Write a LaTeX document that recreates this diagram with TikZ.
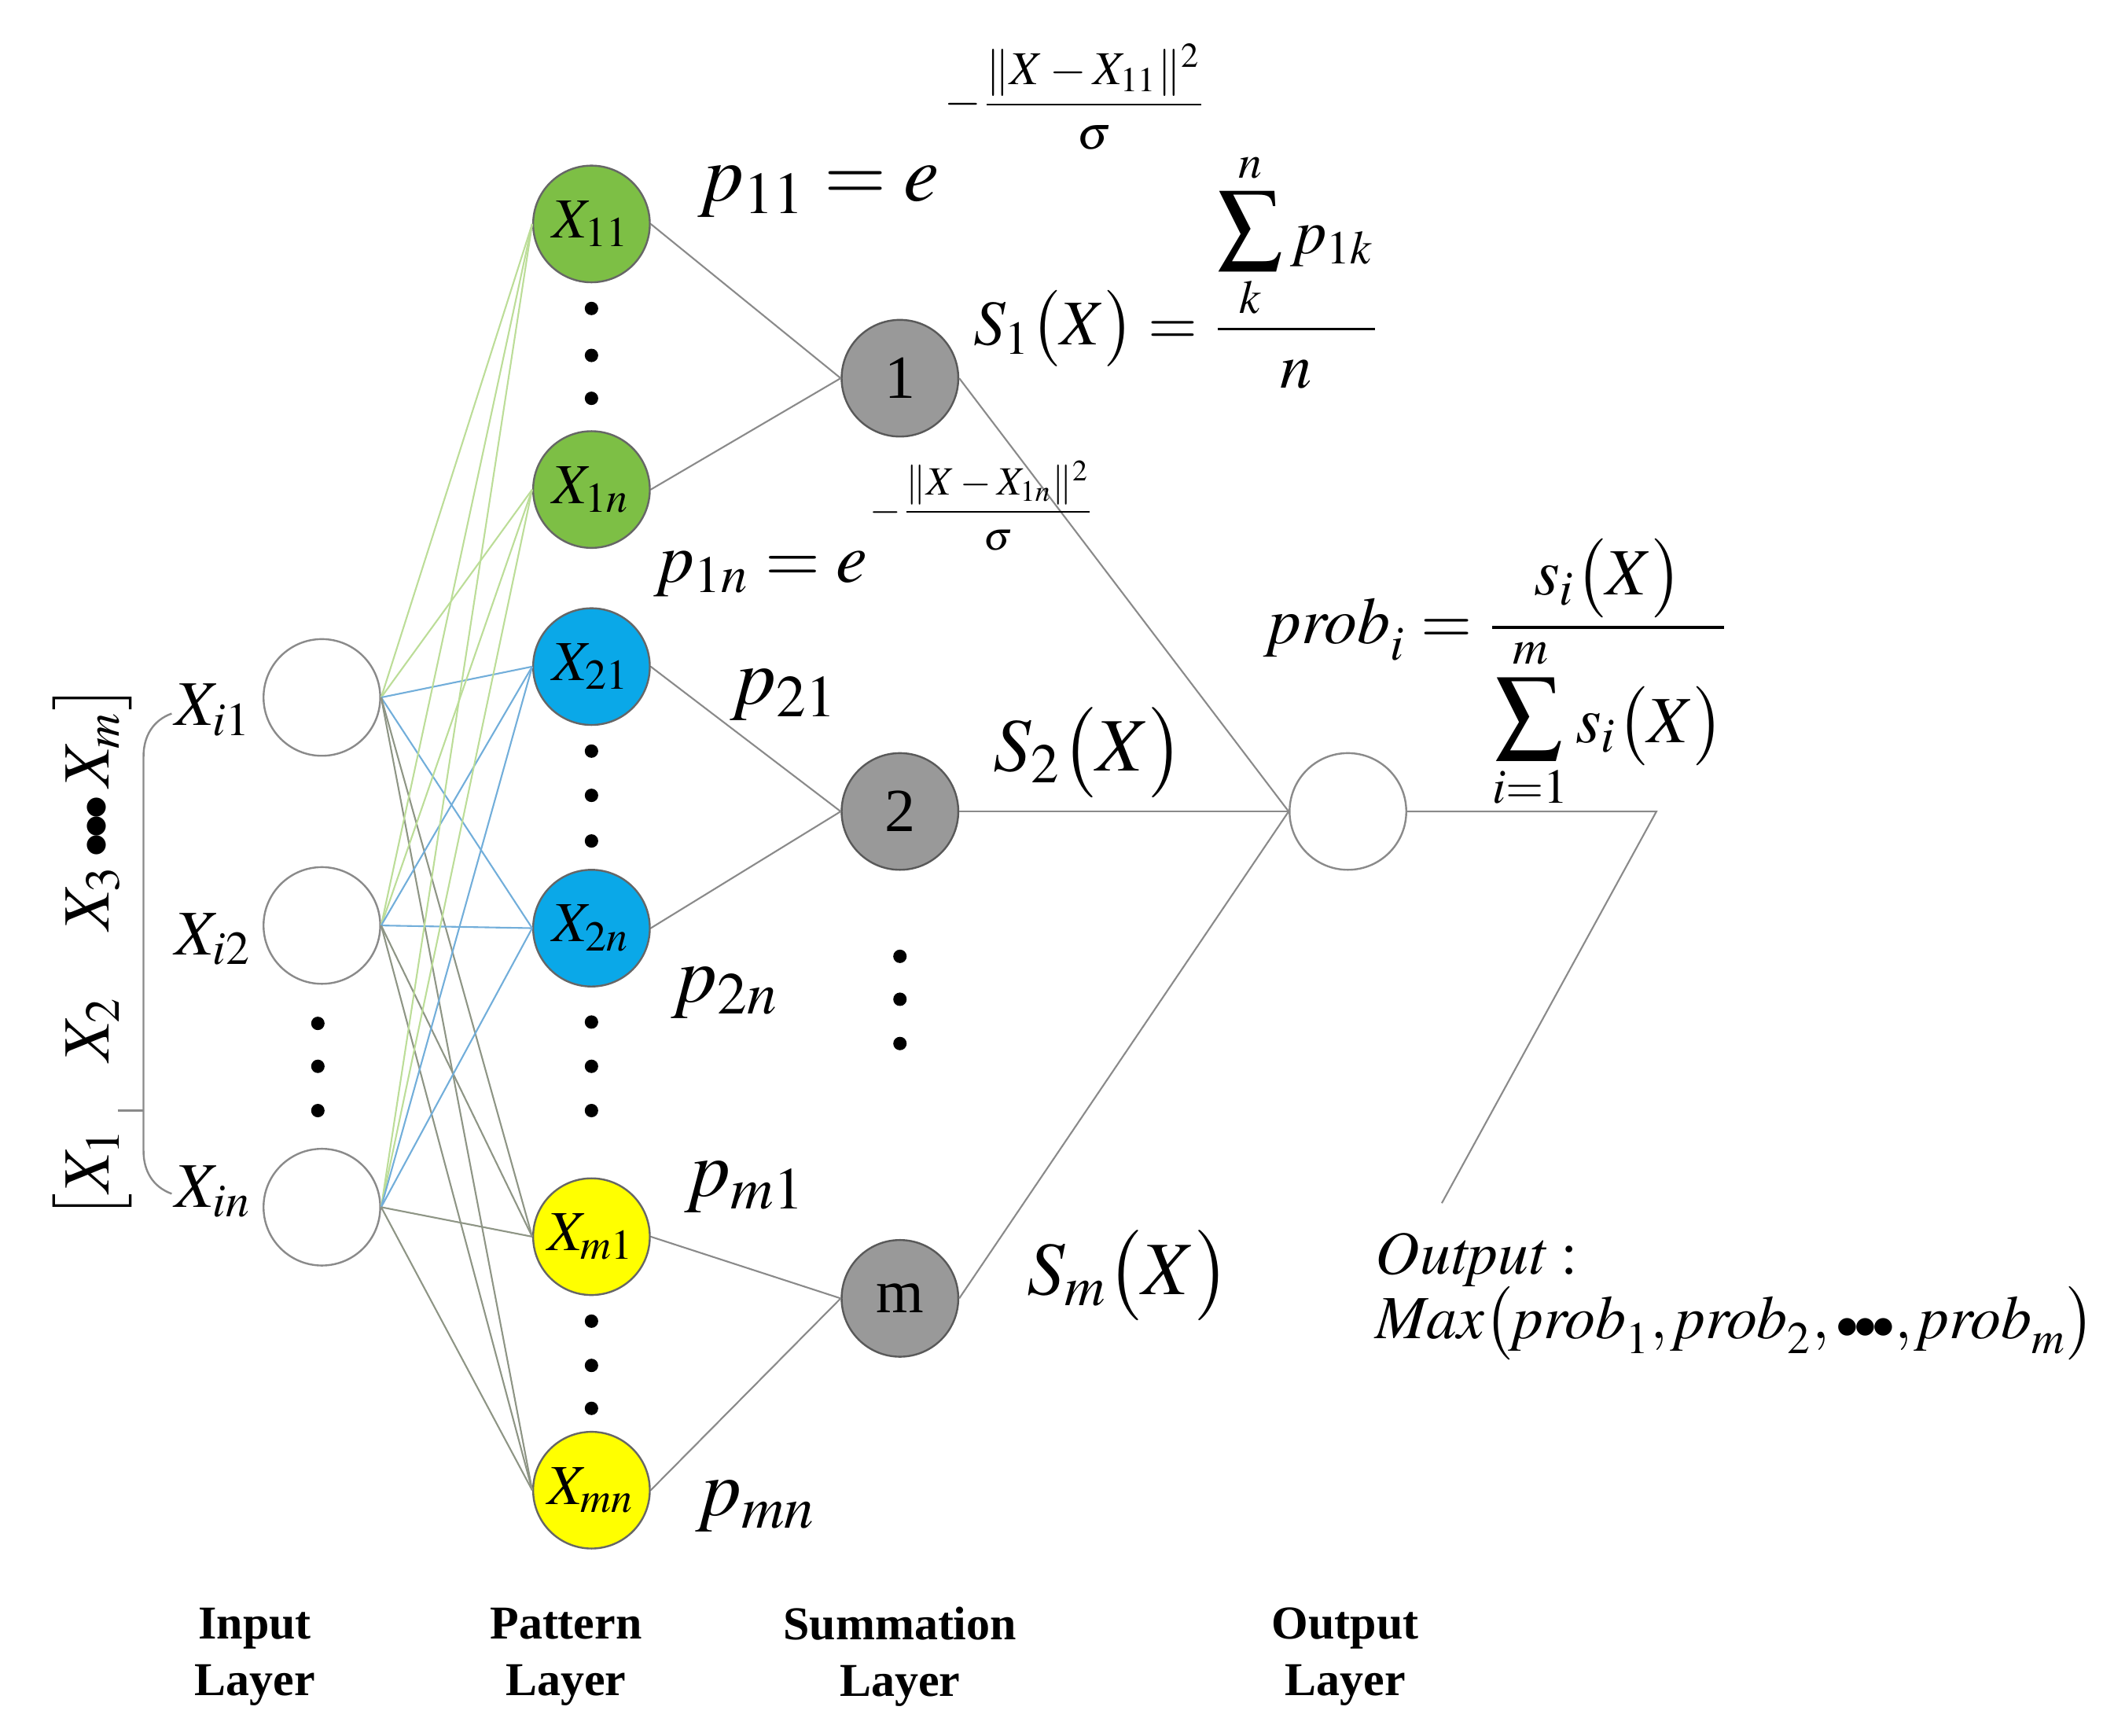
\documentclass[tikz,border=0pt]{standalone}
\usepackage{mathptmx}
\usepackage[no-math]{fontspec}
\setmainfont{Liberation Serif}
\usepackage{tikz}
\definecolor{patgreen}{HTML}{7DBF45}
\definecolor{patblue}{HTML}{0AA8E8}
\definecolor{patyellow}{HTML}{FFFF00}
\definecolor{sumgray}{HTML}{999999}
\definecolor{linkgreen}{HTML}{BCDD98}
\definecolor{linkblue}{HTML}{72AEDA}
\definecolor{linkgray}{HTML}{8E9585}
\definecolor{edgegray}{HTML}{8A8A8A}
\newcommand{\threedots}{{\scriptstyle\bullet}\hspace{-0.08em}{\scriptstyle\bullet}\hspace{-0.08em}{\scriptstyle\bullet}}
\newcommand{\bigsum}{\mathop{\scalebox{1.45}{$\sum$}}\limits}

\begin{document}
\begin{tikzpicture}[
  inp/.style={circle, draw=edgegray, fill=white, minimum size=0.87cm, inner sep=0pt},
  pat/.style={circle, draw=gray!80!black, minimum size=0.87cm, inner sep=0pt,
              font=\fontsize{12}{14}\selectfont},
  sumnode/.style={circle, draw=gray!70!black, fill=sumgray, minimum size=0.87cm,
                  inner sep=0pt, font=\fontsize{13}{15}\selectfont},
  link/.style={line width=0.35pt},
  lbl/.style={anchor=base west, inner sep=0pt},
  layer/.style={align=center, font=\fontsize{10}{12}\selectfont\bfseries},
]
\useasboundingbox (0,0) rectangle (15.68,12.94);

% Input layer
\node[inp] (i1) at (2.40,7.74) {};
\node[inp] (i2) at (2.40,6.04) {};
\node[inp] (i3) at (2.40,3.94) {};
\node[lbl, font=\fontsize{13.5}{15}\selectfont] (li1) at (1.30,7.53) {$X_{i1}$};
\node[lbl, font=\fontsize{13.5}{15}\selectfont] (li2) at (1.30,5.82) {$X_{i2}$};
\node[lbl, font=\fontsize{13.5}{15}\selectfont] (li3) at (1.30,3.94) {$X_{in}$};
\node[rotate=90, inner sep=0pt, font=\fontsize{14}{16}\selectfont] (vec) at (0.69,5.84)
  {$\bigl[X_1\quad X_2\quad X_3\,\threedots\,X_m\bigr]$};
\draw[edgegray, line width=0.4pt] (1.28,7.62) to[out=200, in=90] (1.07,7.30)
  -- (1.07,4.36) to[out=-90, in=160] (1.28,4.04);
\draw[edgegray, line width=0.4pt] (0.88,4.66) -- (1.07,4.66);

% Pattern layer
\node[pat, fill=patgreen]  (x11) at (4.41,11.27) {$X_{11}$};
\node[pat, fill=patgreen]  (x1n) at (4.41,9.29)  {$X_{1n}$};
\node[pat, fill=patblue]   (x21) at (4.41,7.97)  {$X_{21}$};
\node[pat, fill=patblue]   (x2n) at (4.41,6.02)  {$X_{2n}$};
\node[pat, fill=patyellow] (xm1) at (4.41,3.72)  {$X_{m1}$};
\node[pat, fill=patyellow] (xmn) at (4.41,1.83)  {$X_{mn}$};

% Summation layer
\node[sumnode] (s1) at (6.71,10.12) {1};
\node[sumnode] (s2) at (6.71,6.89)  {2};
\node[sumnode] (sm) at (6.71,3.26)  {m};

% Output layer
\node[inp] (out) at (10.05,6.89) {};
\coordinate (bend) at (12.35,6.89);
\coordinate (tail) at (10.75,3.97);

% vertical dots
\foreach \yy in {5.31,4.99,4.66}
  \fill (2.37,\yy) circle (0.05);
\foreach \yy in {10.64,10.29,9.97, 7.34,7.01,6.67, 5.32,4.99,4.66, 3.09,2.76,2.44}
  \fill (4.41,\yy) circle (0.05);
\foreach \yy in {5.81,5.49,5.16}
  \fill (6.71,\yy) circle (0.05);

% Input to pattern
\foreach \src in {i1,i2,i3} {
  \foreach \dst in {x11,x1n}
    \draw[link, linkgreen] (\src.east) -- (\dst.west);
  \foreach \dst in {x21,x2n}
    \draw[link, linkblue] (\src.east) -- (\dst.west);
  \foreach \dst in {xm1,xmn}
    \draw[link, linkgray] (\src.east) -- (\dst.west);
}

% Pattern to summation, summation to output
\draw[link, edgegray] (x11.east) -- (s1.west);
\draw[link, edgegray] (x1n.east) -- (s1.west);
\draw[link, edgegray] (x21.east) -- (s2.west);
\draw[link, edgegray] (x2n.east) -- (s2.west);
\draw[link, edgegray] (xm1.east) -- (sm.west);
\draw[link, edgegray] (xmn.east) -- (sm.west);
\foreach \src in {s1,s2,sm}
  \draw[link, edgegray] (\src.east) -- (out.west);
\draw[link, edgegray] (out.east) -- (bend) -- (tail);

% Formulas
\node[lbl, font=\fontsize{17}{20}\selectfont] (f11) at (5.20,11.44)
  {$p_{11}=e\kern1pt\raisebox{18pt}{\fontsize{10}{12}\selectfont$\displaystyle-\frac{\|X-X_{11}\|^2}{\sigma}$}$};
\node[lbl, font=\fontsize{15}{18}\selectfont] (f1n) at (4.87,8.60)
  {$p_{1n}=e\kern0.5pt\raisebox{12.7pt}{\fontsize{8.5}{10}\selectfont$\displaystyle-\frac{\|X-X_{1n}\|^2}{\sigma}$}$};
\node[lbl, font=\fontsize{13.5}{16}\selectfont] (fs1) at (7.25,10.37)
  {$\displaystyle S_1\bigl(X\bigr)=\frac{\bigsum_{k}^{n}p_{1k}}{n}$};
\node[lbl, font=\fontsize{17}{20}\selectfont] (f21) at (5.44,7.69) {$p_{21}$};
\node[lbl, font=\fontsize{17}{20}\selectfont] (f2n) at (5.00,5.47) {$p_{2n}$};
\node[lbl, font=\fontsize{17}{20}\selectfont] (fm1) at (5.10,4.02) {$p_{m1}$};
\node[lbl, font=\fontsize{17}{20}\selectfont] (fmn) at (5.18,1.64) {$p_{mn}$};
\node[lbl, font=\fontsize{16}{19}\selectfont] (fs2) at (7.40,7.19) {$S_2\bigl(X\bigr)$};
\node[lbl, font=\fontsize{16}{19}\selectfont] (fsm) at (7.65,3.29) {$S_m\bigl(X\bigr)$};
\node[lbl, font=\fontsize{14}{17}\selectfont] (fprob) at (9.45,8.14)
  {$\displaystyle\mathit{prob}_i=\frac{s_i\bigl(X\bigr)}{\bigsum_{i=1}^{m}s_i\bigl(X\bigr)}$};
\node[lbl, font=\fontsize{13}{15}\selectfont] (outtxt) at (10.25,3.44) {$\mathit{Output}:$};
\node[lbl, font=\fontsize{13}{15}\selectfont] (maxtxt) at (10.25,2.96)
  {$\mathit{Max}\bigl(\mathit{prob}_1,\mathit{prob}_2,\threedots,\mathit{prob}_m\bigr)$};

% Layer names
\node[layer] (linp) at (1.90,0.59) {Input\\Layer};
\node[layer] (lpat) at (4.22,0.59) {Pattern\\Layer};
\node[layer] (lsum) at (6.71,0.59) {Summation\\Layer};
\node[layer] (lout) at (10.03,0.59) {Output\\Layer};
\end{tikzpicture}
\end{document}
